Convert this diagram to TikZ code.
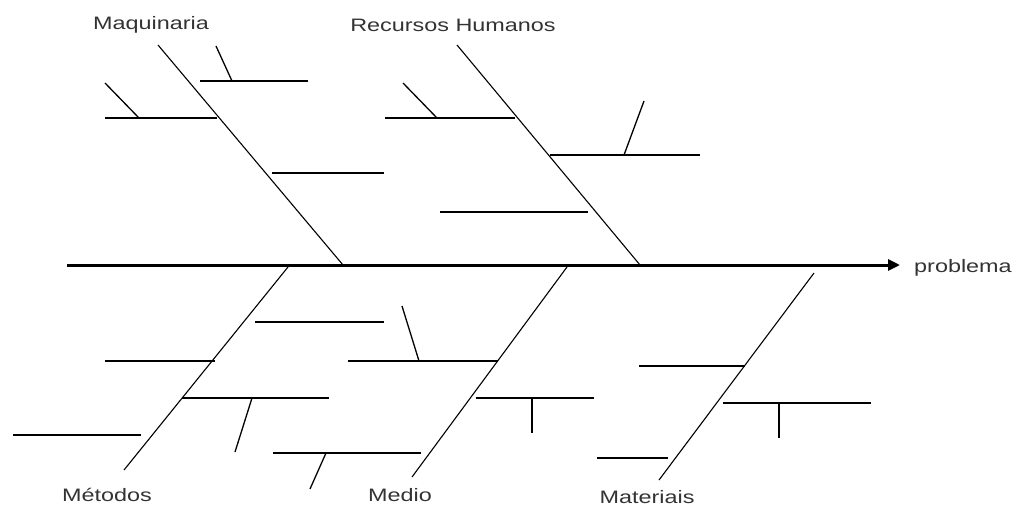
\documentclass[tikz,border=0pt]{standalone}
\usepackage{fontspec}
\setmainfont{Liberation Sans}
\usetikzlibrary{arrows.meta}
\begin{document}
\begin{tikzpicture}[x=1pt,y=-1pt,
  spine/.style={line width=3pt,-{Triangle[length=12pt,width=11pt]}},
  bone/.style={line width=1.1pt},
  sub/.style={line width=1.5pt},
  tick/.style={line width=1.3pt},
  lbl/.style={font=\fontsize{18}{18}\selectfont, text=black!80, inner sep=0pt}]
\useasboundingbox (0,0) rectangle (1016,509);
% spine
\coordinate (s0) at (67,265);
\coordinate (s1) at (900,265);
\node[lbl, anchor=west] (prob) at (914,268) {\scalebox{1.3}[1]{problema}};
\draw[spine] (s0) -- (s1);
% labels
\node[lbl] (maq) at (151,25) {\scalebox{1.3}[1]{Maquinaria}};
\node[lbl] (rh) at (453,25) {\scalebox{1.3}[1]{Recursos Humanos}};
\node[lbl] (met) at (107,495) {\scalebox{1.3}[1]{Métodos}};
\node[lbl] (med) at (400,495) {\scalebox{1.3}[1]{Medio}};
\node[lbl] (mat) at (647,497) {\scalebox{1.3}[1]{Materiais}};
% Maquinaria bone
\coordinate (m0) at (158,45); \coordinate (m1) at (343,265);
\draw[bone] (m0) -- (m1);
\coordinate (ma1) at (105,118); \coordinate (ma2) at (217,118);
\draw[sub] (ma1) -- (ma2);
\coordinate (mt1) at (105,83); \coordinate (mt2) at (139,118);
\draw[tick] (mt1) -- (mt2);
\coordinate (mb1) at (200,81); \coordinate (mb2) at (308,81);
\draw[sub] (mb1) -- (mb2);
\coordinate (mu1) at (216,46); \coordinate (mu2) at (232,81);
\draw[tick] (mu1) -- (mu2);
\coordinate (mc1) at (272,173); \coordinate (mc2) at (384,173);
\draw[sub] (mc1) -- (mc2);
% Recursos Humanos bone
\coordinate (r0) at (457,45); \coordinate (r1) at (640,265);
\draw[bone] (r0) -- (r1);
\coordinate (ra1) at (385,118); \coordinate (ra2) at (515,118);
\draw[sub] (ra1) -- (ra2);
\coordinate (rt1) at (403,83); \coordinate (rt2) at (437,118);
\draw[tick] (rt1) -- (rt2);
\coordinate (rb1) at (550,155); \coordinate (rb2) at (700,155);
\draw[sub] (rb1) -- (rb2);
\coordinate (ru1) at (644,101); \coordinate (ru2) at (624,155);
\draw[tick] (ru1) -- (ru2);
\coordinate (rc1) at (440,212); \coordinate (rc2) at (588,212);
\draw[sub] (rc1) -- (rc2);
% Metodos bone
\coordinate (t0) at (288,267); \coordinate (t1) at (124,470);
\draw[bone] (t0) -- (t1);
\coordinate (ta1) at (255,322); \coordinate (ta2) at (384,322);
\draw[sub] (ta1) -- (ta2);
\coordinate (tb1) at (105,361); \coordinate (tb2) at (215,361);
\draw[sub] (tb1) -- (tb2);
\coordinate (tc1) at (182,398); \coordinate (tc2) at (329,398);
\draw[sub] (tc1) -- (tc2);
\coordinate (tu1) at (252,398); \coordinate (tu2) at (235,452);
\draw[tick] (tu1) -- (tu2);
\coordinate (td1) at (13,435); \coordinate (td2) at (141,435);
\draw[sub] (td1) -- (td2);
% Medio bone
\coordinate (d0) at (567,267); \coordinate (d1) at (412,477);
\draw[bone] (d0) -- (d1);
\coordinate (da1) at (348,361); \coordinate (da2) at (498,361);
\draw[sub] (da1) -- (da2);
\coordinate (du1) at (402,306); \coordinate (du2) at (419,361);
\draw[tick] (du1) -- (du2);
\coordinate (db1) at (476,398); \coordinate (db2) at (594,398);
\draw[sub] (db1) -- (db2);
\coordinate (dv1) at (532,398); \coordinate (dv2) at (532,433);
\draw[tick] (dv1) -- (dv2);
\coordinate (dc1) at (273,453); \coordinate (dc2) at (421,453);
\draw[sub] (dc1) -- (dc2);
\coordinate (dw1) at (326,453); \coordinate (dw2) at (310,489);
\draw[tick] (dw1) -- (dw2);
% Materiais bone
\coordinate (e0) at (814,273); \coordinate (e1) at (659,480);
\draw[bone] (e0) -- (e1);
\coordinate (ea1) at (639,366); \coordinate (ea2) at (745,366);
\draw[sub] (ea1) -- (ea2);
\coordinate (eb1) at (723,403); \coordinate (eb2) at (871,403);
\draw[sub] (eb1) -- (eb2);
\coordinate (ev1) at (779,403); \coordinate (ev2) at (779,438);
\draw[tick] (ev1) -- (ev2);
\coordinate (ec1) at (597,458); \coordinate (ec2) at (668,458);
\draw[sub] (ec1) -- (ec2);
\end{tikzpicture}
\end{document}
